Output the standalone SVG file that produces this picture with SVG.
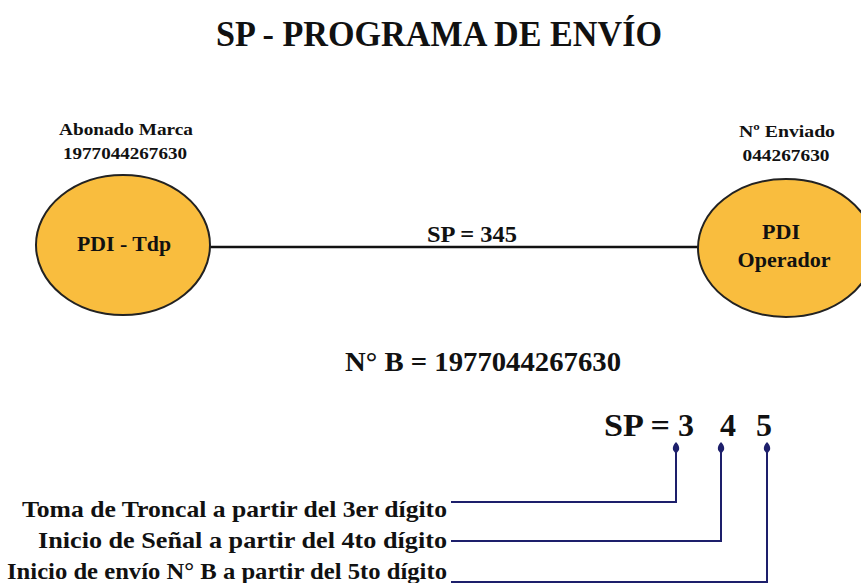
<svg xmlns="http://www.w3.org/2000/svg" width="861" height="583" viewBox="0 0 861 583">
<defs>
<style>
text{font-family:"Liberation Serif","Times New Roman",Times,serif;font-weight:bold;fill:#111;}
.node{fill:#F9BD3E;stroke:#222;stroke-width:2;}
.nav{stroke:#1d1f6b;stroke-width:2;fill:none;}
</style>
<marker id="ah" viewBox="0 0 12 8" refX="2" refY="4" markerWidth="12" markerHeight="8" orient="auto" markerUnits="userSpaceOnUse">
<path d="M0,4 L4,1 Q8,0 12,4 Q8,8 4,7 Z" fill="#1d1f6b"/>
</marker>
</defs>
<rect width="861" height="583" fill="#fff"/>
<text x="439" y="46" font-size="35" text-anchor="middle" textLength="446" lengthAdjust="spacingAndGlyphs">SP - PROGRAMA DE ENVÍO</text>

<g id="connectors">
<line x1="210" y1="247" x2="698" y2="247" stroke="#111" stroke-width="2.5"/>
<text x="472" y="242" font-size="24" text-anchor="middle" textLength="90" lengthAdjust="spacingAndGlyphs">SP = 345</text>
</g>

<g id="node-tdp">
<text x="126" y="135" font-size="17" text-anchor="middle" textLength="134" lengthAdjust="spacingAndGlyphs">Abonado Marca</text>
<text x="125" y="159" font-size="17" text-anchor="middle" textLength="124" lengthAdjust="spacingAndGlyphs">1977044267630</text>
<ellipse class="node" cx="123" cy="245" rx="87" ry="70"/>
<text x="124" y="251" font-size="22" text-anchor="middle" textLength="94" lengthAdjust="spacingAndGlyphs">PDI - Tdp</text>
</g>

<g id="node-operador">
<text x="787" y="137" font-size="17" text-anchor="middle" textLength="96" lengthAdjust="spacingAndGlyphs">Nº Enviado</text>
<text x="786" y="161" font-size="17" text-anchor="middle" textLength="87" lengthAdjust="spacingAndGlyphs">044267630</text>
<ellipse class="node" cx="786" cy="248" rx="88" ry="69"/>
<text x="781" y="239" font-size="21" text-anchor="middle" textLength="38" lengthAdjust="spacingAndGlyphs">PDI</text>
<text x="784" y="267" font-size="21" text-anchor="middle" textLength="93" lengthAdjust="spacingAndGlyphs">Operador</text>
</g>

<text x="483" y="371" font-size="27" text-anchor="middle" textLength="276" lengthAdjust="spacingAndGlyphs">N° B = 1977044267630</text>

<g id="sp-digits">
<text x="604" y="436" font-size="32" textLength="66" lengthAdjust="spacingAndGlyphs">SP =</text>
<text x="686" y="436" font-size="32" text-anchor="middle">3</text>
<text x="728" y="436" font-size="32" text-anchor="middle">4</text>
<text x="764" y="436" font-size="32" text-anchor="middle">5</text>
</g>

<g id="legend-connectors">
<path class="nav" d="M451,502 H676 V452" marker-end="url(#ah)"/>
<path class="nav" d="M451,541 H721 V452" marker-end="url(#ah)"/>
<path class="nav" d="M451,582 H767 V452" marker-end="url(#ah)"/>
</g>

<g id="legend-text">
<text x="447" y="517" font-size="23" text-anchor="end" textLength="425" lengthAdjust="spacingAndGlyphs">Toma de Troncal a partir del 3er dígito</text>
<text x="447" y="548" font-size="23" text-anchor="end" textLength="409" lengthAdjust="spacingAndGlyphs">Inicio de Señal a partir del 4to dígito</text>
<text x="447" y="579" font-size="23" text-anchor="end" textLength="440" lengthAdjust="spacingAndGlyphs">Inicio de envío N° B a partir del 5to dígito</text>
</g>
</svg>
